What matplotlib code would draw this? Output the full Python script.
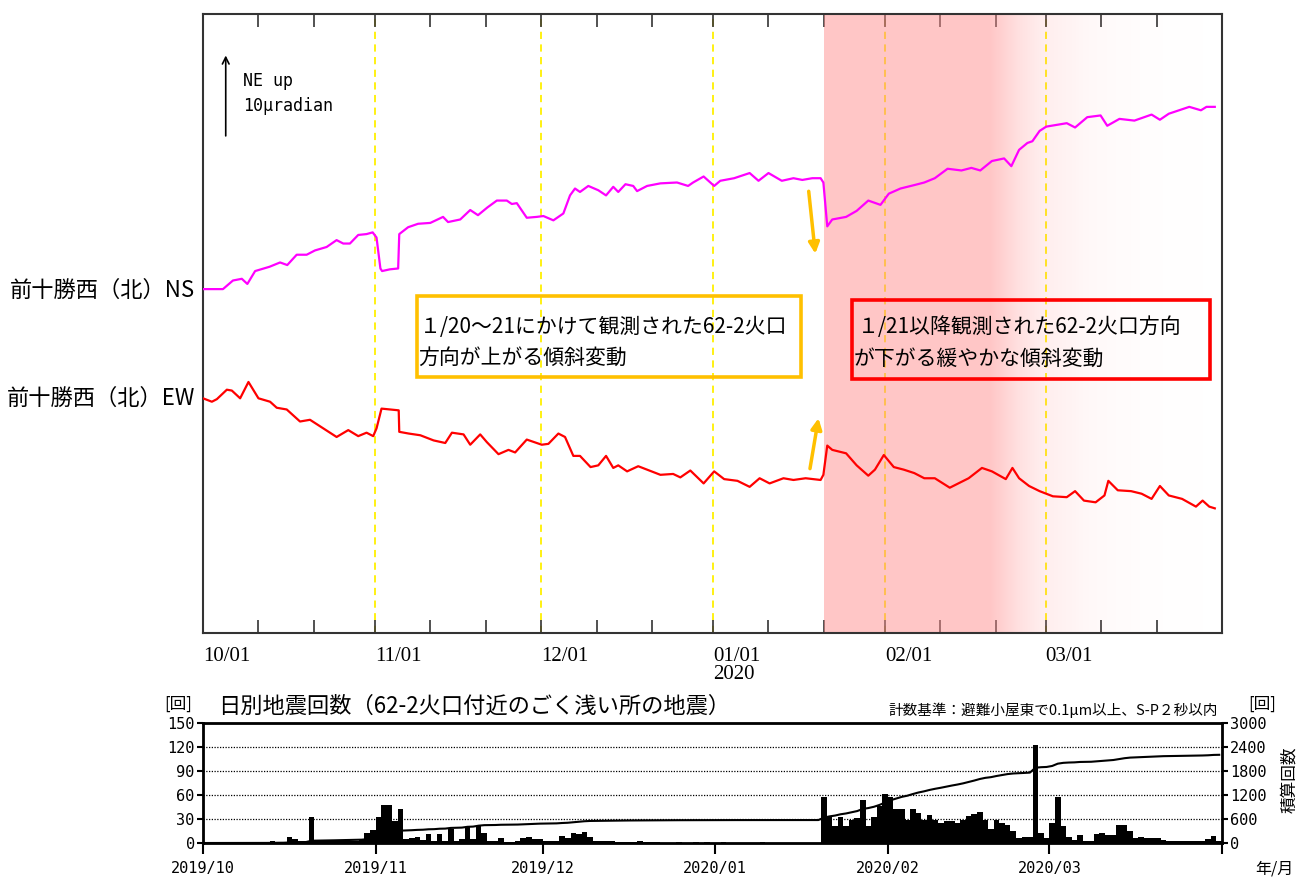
import numpy as np
import matplotlib.pyplot as plt
from matplotlib.patches import Rectangle

plt.rcParams['font.family'] = ['Noto Sans CJK JP', 'DejaVu Sans']

#----------- 傾斜データ (x: 2019/10/01からの日数, y: μradian)
ns_day = [0, 3.6, 5.4, 7, 8, 9.4, 12, 13.9, 15.2, 16.9, 18.7, 20.2, 22.3, 24.1, 25.3, 26.5, 28, 29.5,
          30.6, 31.3, 32, 32.3, 33.7, 35.2, 35.4, 37, 38.8, 41, 43.3, 44.2, 46.4, 48.2, 49.6, 51.3,
          53, 54.8, 55.7, 56.6, 58.4, 60.2, 61.4, 63.2, 65, 66.2, 67.1, 68, 69.5, 71.3, 72.7, 74,
          74.9, 76.2, 77.6, 78.3, 80.1, 82.5, 85.5, 87.5, 88.4, 90.3, 92.2, 93.3, 95.8, 98.6, 100.2,
          102, 104.4, 106.5, 108.1, 109.9, 111.4, 111.9, 112.6, 113.5, 116, 117.9, 120, 122.2, 123.7,
          125.8, 128.3, 130.1, 132, 134.3, 136.8, 138.6, 140.2, 142.3, 144.5, 145.8, 147.2, 148.7,
          149.6, 150.9, 152.1, 155.8, 157.3, 159.5, 161.9, 163.1, 165.3, 168, 171.1, 172.6, 174.2,
          177.9, 180, 181, 182.5]
ns_val = [40.0, 40.0, 41.0, 41.2, 40.6, 42.1, 42.6, 43.1, 42.8, 44.0, 44.0, 44.5, 44.9, 45.7, 45.3,
          45.3, 46.3, 46.4, 46.6, 46.0, 42.4, 42.1, 42.3, 42.4, 46.4, 47.2, 47.6, 47.7, 48.4, 47.8,
          48.1, 49.2, 48.6, 49.5, 50.3, 50.3, 49.9, 50.0, 48.3, 48.4, 48.5, 48.0, 48.8, 50.9, 51.7,
          51.3, 52.0, 51.5, 50.9, 51.9, 51.3, 52.2, 52.0, 51.4, 52.0, 52.3, 52.4, 52.0, 52.4, 53.1,
          52.0, 52.6, 52.9, 53.5, 52.6, 53.5, 52.6, 52.9, 52.7, 52.9, 52.9, 52.4, 47.3, 48.1, 48.4,
          49.1, 50.3, 49.8, 51.1, 51.7, 52.1, 52.4, 52.9, 54.0, 53.8, 54.1, 53.8, 54.9, 55.2, 54.3,
          56.2, 57.0, 57.2, 58.4, 58.9, 59.3, 58.8, 60.0, 60.2, 59.0, 59.8, 59.6, 60.3, 59.7, 60.4,
          61.2, 60.8, 61.2, 61.2]

ew_day = [0, 1.6, 2.5, 4.3, 5.2, 6.7, 8.2, 10, 12.1, 13.3, 15.1, 17.5, 19.3, 21.7, 24.1, 26.2, 28,
          29.5, 30.7, 31.3, 32.2, 35.3, 35.4, 37.1, 39.2, 41.6, 43.7, 44.9, 47, 48.2, 50, 51.2, 53.3,
          55.1, 56.3, 58.4, 61.1, 62.3, 64.1, 65.3, 66.8, 68, 69.9, 71.3, 72.7, 74, 74.9, 76.5, 78.5,
          82.5, 84.8, 86.1, 87.9, 90.3, 92.2, 94, 96.4, 98.6, 100.4, 102.2, 104.7, 106.5, 108.7,
          111.4, 111.9, 112.6, 113.5, 116, 117.9, 120, 121.2, 122.8, 124.6, 126.4, 128.3, 130.1,
          132, 134.7, 138.1, 140.5, 142.3, 144.8, 146, 147.2, 149, 150.9, 153.3, 155.8, 157.3,
          158.9, 161, 162.6, 163.3, 165, 167.4, 169.3, 171.1, 172.6, 174.2, 176.6, 179.1, 180.3,
          181.5, 182.5]
ew_val = [27.3, 26.9, 27.2, 28.3, 28.2, 27.3, 29.2, 27.3, 26.9, 26.2, 26.0, 24.6, 24.8, 23.8, 22.8,
          23.6, 22.9, 23.3, 22.9, 23.8, 26.1, 25.9, 23.4, 23.2, 23.0, 22.4, 22.1, 23.3, 23.1, 21.9,
          23.1, 22.2, 20.8, 21.3, 21.0, 22.5, 21.9, 22.0, 23.2, 22.8, 20.6, 20.6, 19.3, 19.5, 20.6,
          19.2, 19.5, 18.8, 19.4, 18.4, 18.5, 18.1, 18.9, 17.4, 18.8, 17.9, 17.7, 17.0, 18.0, 17.4,
          18.0, 17.8, 18.0, 17.8, 18.4, 21.8, 21.3, 20.9, 19.5, 18.3, 19.0, 20.7, 19.3, 19.0, 18.6,
          18.0, 18.0, 16.9, 18.0, 19.2, 18.8, 17.9, 19.2, 18.0, 17.1, 16.5, 15.9, 15.8, 16.5, 15.4,
          15.2, 16.0, 17.7, 16.6, 16.5, 16.2, 15.6, 17.1, 16.0, 15.6, 14.7, 15.4, 14.7, 14.5]

top_ticks = [0, 31, 61, 92, 123, 152]
top_labels = ['10/01', '11/01', '12/01', '01/01\n2020', '02/01', '03/01']
minor_ticks = [10, 20, 41, 51, 71, 81, 102, 112, 133, 143, 162, 172]

#----------- 日別地震回数 (2019/10/01 - 2020/03/31)
cnt_oct = [0, 0, 0, 0, 0, 0, 0, 0, 1, 0, 0, 1, 3, 1, 1, 7, 5, 3, 2, 33, 2, 2, 3, 3, 3, 3, 3, 3, 4, 13, 16]
cnt_nov = [33, 47, 47, 27, 43, 5, 6, 8, 4, 11, 3, 11, 3, 17, 3, 5, 20, 5, 23, 13, 2, 2, 6, 1, 1, 3, 6, 7, 5, 5]
cnt_dec = [2, 2, 3, 9, 6, 13, 11, 14, 7, 2, 2, 2, 3, 1, 1, 1, 1, 2, 1, 1, 1, 0, 0, 0, 1, 0, 0, 1, 0, 1, 0]
cnt_jan = [0, 1, 0, 0, 0, 0, 0, 0, 1, 0, 0, 0, 0, 0, 0, 0, 0, 0, 0,
           58, 33, 21, 32, 21, 29, 31, 54, 21, 32, 46, 61]
cnt_feb = [57, 42, 42, 29, 42, 38, 29, 35, 29, 25, 28, 28, 25, 29, 34, 36, 39, 29, 17, 29,
           25, 23, 15, 6, 8, 8, 122, 13, 6]
cnt_mar = [25, 57, 21, 8, 4, 10, 2, 3, 11, 13, 10, 10, 23, 22, 15, 6, 8, 6, 6, 6,
           4, 3, 2, 2, 2, 2, 3, 3, 5, 9, 3]
daily = np.array(cnt_oct + cnt_nov + cnt_dec + cnt_jan + cnt_feb + cnt_mar)
day = np.arange(len(daily))
cum = np.cumsum(daily)

bot_ticks = [0, 31, 61, 92, 123, 152, 183]
bot_labels = ['2019/10', '2019/11', '2019/12', '2020/01', '2020/02', '2020/03', '']

#----------- figure
fig = plt.figure(figsize=(12.98, 8.77), dpi=100)
ax = fig.add_axes([203/1298, 1 - 633/877, 1019/1298, 619/877])
XMAX = 183.8
ax.set_xlim(0, XMAX)
ax.set_ylim(0, 72)

# 月初の黄色破線
for d in top_ticks[1:]:
    ax.axvline(d, color='#FFF000', linestyle=(0, (4, 3)), linewidth=1.3, zorder=1)

# 1/21以降の網掛け (右に向かって薄くなる)
gx = np.linspace(112, XMAX, 400)
ga = np.interp(gx, [112, 142, 147, 151, 160, 170, 184], [1, 1, 0.55, 0.32, 0.12, 0.03, 0]) * 0.5
grad = np.zeros((1, len(gx), 4))
grad[0, :, 0] = 1.0
grad[0, :, 1] = 0.56
grad[0, :, 2] = 0.56
grad[0, :, 3] = ga
ax.imshow(grad, extent=[112, XMAX, 0, 72], aspect='auto', zorder=2, interpolation='bilinear')

ax.plot(ns_day, ns_val, color='#FF00FF', linewidth=1.6, zorder=3)
ax.plot(ew_day, ew_val, color='#FF0000', linewidth=1.6, zorder=3)

# オレンジ矢印
ax.annotate('', xy=(110.5, 43.8), xytext=(109.2, 51.7),
            arrowprops=dict(arrowstyle='-|>', color='#FFC000', lw=2.5, mutation_scale=16), zorder=4)
ax.annotate('', xy=(111.1, 25.3), xytext=(109.4, 18.8),
            arrowprops=dict(arrowstyle='-|>', color='#FFC000', lw=2.5, mutation_scale=16), zorder=4)

# 説明枠
ax.add_patch(Rectangle((38.6, 29.8), 69.2, 9.4, fill=False, edgecolor='#FFC000', linewidth=2.6, zorder=4))
ax.text(39.2, 35.6, '１/20～21にかけて観測された62-2火口', fontsize=15, va='center', zorder=5)
ax.text(38.8, 32.0, '方向が上がる傾斜変動', fontsize=15, va='center', zorder=5)
ax.add_patch(Rectangle((117.0, 29.5), 64.6, 9.2, fill=False, edgecolor='#FF0000', linewidth=2.6, zorder=4))
ax.text(118.1, 35.6, '１/21以降観測された62-2火口方向', fontsize=15, va='center', zorder=5)
ax.text(117.3, 31.9, 'が下がる緩やかな傾斜変動', fontsize=15, va='center', zorder=5)

# スケール
ax.annotate('', xy=(4.1, 67.5), xytext=(4.1, 57.5),
            arrowprops=dict(arrowstyle='->', color='black', lw=1.2, mutation_scale=12))
ax.text(7.2, 64.2, 'NE up', fontsize=12, family='DejaVu Sans Mono', va='center')
ax.text(7.2, 61.3, '10μradian', fontsize=12, family='DejaVu Sans Mono', va='center')

ax.set_yticks([])
ax.set_xticks(top_ticks)
ax.set_xticks(minor_ticks, minor=True)
ax.set_xticklabels(top_labels, fontsize=15, family='Liberation Serif', ha='left', linespacing=0.95)
ax.tick_params(axis='x', which='both', direction='in', length=9.5, width=1.2, top=True, pad=10,
               color='#333333')
for s in ax.spines.values():
    s.set_color('#333333')
    s.set_linewidth(1.5)

fig.text(195/1298, 1 - 290/877, '前十勝西（北）NS', fontsize=16, ha='right', va='center')
fig.text(195/1298, 1 - 398/877, '前十勝西（北）EW', fontsize=16, ha='right', va='center')

#----------- 地震回数
axb = fig.add_axes([203/1298, 1 - 843/877, 1019/1298, 120/877])
axb.bar(day, daily, width=1.0, align='edge', color='black', linewidth=0)
axb.set_xlim(0, 183)
axb.set_ylim(0, 150)
axb.set_yticks([0, 30, 60, 90, 120, 150])
for y in [30, 60, 90, 120]:
    axb.axhline(y, color='black', linestyle=(0, (1, 1.2)), linewidth=0.9, zorder=0.5)
axb.set_xticks(bot_ticks)
axb.set_xticklabels(bot_labels, fontsize=11, family='DejaVu Sans Mono')
axb.tick_params(axis='x', direction='out', length=8, width=1.5, pad=5)
axb.tick_params(axis='y', direction='out', length=4, width=1.5, labelsize=11, pad=2)
for lab in axb.get_yticklabels():
    lab.set_family('DejaVu Sans Mono')
for s in axb.spines.values():
    s.set_linewidth(2)

axc = axb.twinx()
axc.plot(day + 0.5, cum, color='black', linewidth=1.5)
axc.set_ylim(0, 3000)
axc.set_yticks([0, 600, 1200, 1800, 2400, 3000])
axc.tick_params(axis='y', direction='out', length=4, width=1.5, labelsize=11, pad=2)
for lab in axc.get_yticklabels():
    lab.set_family('DejaVu Sans Mono')

fig.text(218/1298, 1 - 706/877, '日別地震回数（62-2火口付近のごく浅い所の地震）', fontsize=16, va='center')
fig.text(1218/1298, 1 - 710/877, '計数基準：避難小屋東で0.1μm以上、S-P２秒以内', fontsize=10.5,
         ha='right', va='center')
fig.text(178/1298, 1 - 704/877, '[回]', fontsize=12, ha='center', va='center')
fig.text(1262/1298, 1 - 704/877, '[回]', fontsize=12, ha='center', va='center')
fig.text(1290/1298, 1 - 780/877, '積算回数', fontsize=12, ha='center', va='center', rotation=90)
fig.text(1274/1298, 1 - 869/877, '年/月', fontsize=11.5, ha='center', va='center')

plt.savefig('out.png', dpi=100)
